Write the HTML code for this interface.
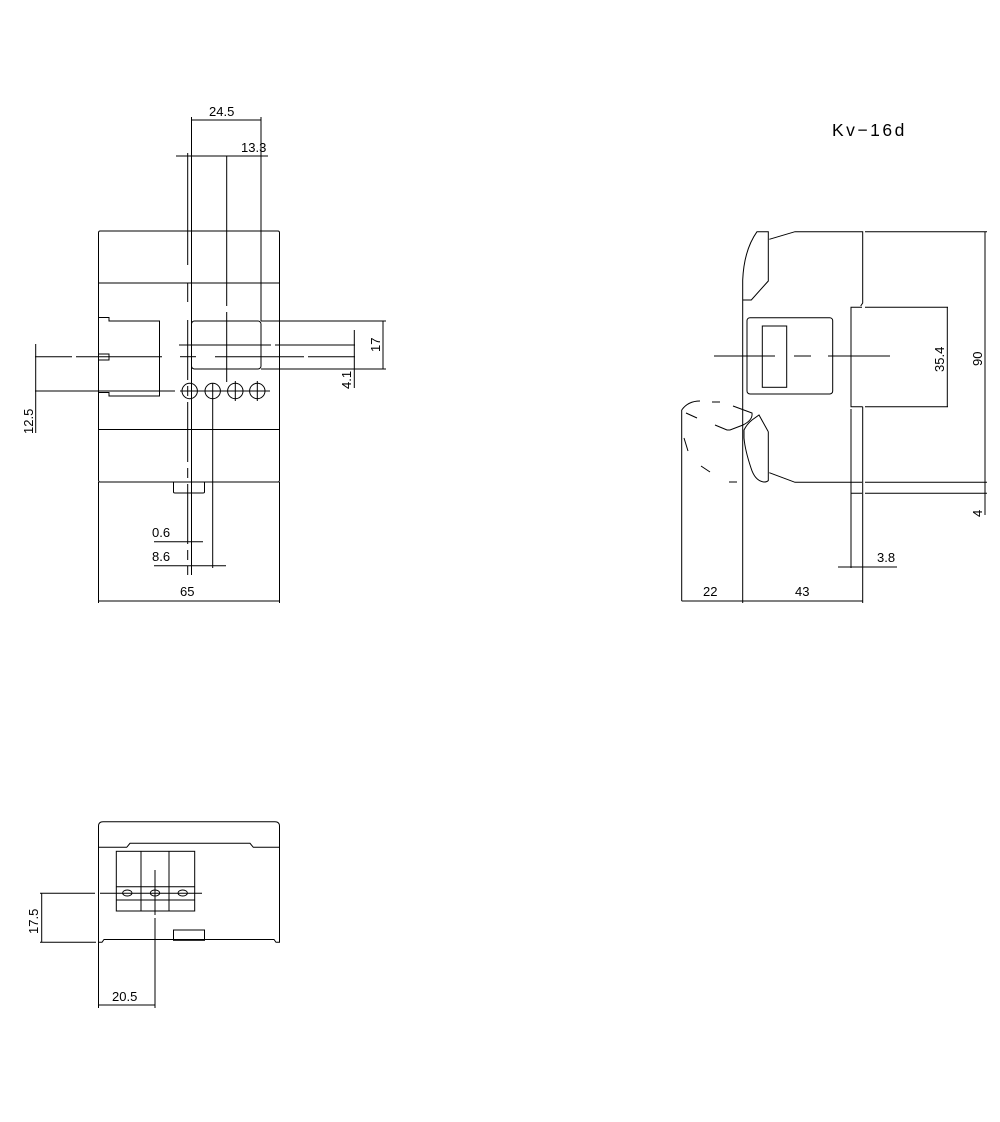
<!DOCTYPE html>
<html><head><meta charset="utf-8"><style>
html,body{margin:0;padding:0;background:#fff}
svg{display:block}
text{font-family:"Liberation Sans",sans-serif;font-size:13px;fill:#000;stroke:none}
</style></head><body>
<svg width="1000" height="1122" viewBox="0 0 1000 1122" xmlns="http://www.w3.org/2000/svg" fill="none" stroke="#000" stroke-width="1">
<!-- FRONT VIEW -->
<path d="M100,231 H278 Q279.5,231 279.5,233 V480 Q279.5,482 278,482 H100 Q98.5,482 98.5,480 V233 Q98.5,231 100,231Z"/>
<line x1="98.5" y1="283" x2="279.5" y2="283"/>
<line x1="98.5" y1="429.5" x2="279.5" y2="429.5"/>
<line x1="98.5" y1="482" x2="98.5" y2="603"/>
<line x1="279.5" y1="482" x2="279.5" y2="603"/>
<path d="M98.5,317.5 H109 V321 H159.5 V396 H109 V392.5 H98.5"/>
<rect x="98.5" y="354" width="10.5" height="6"/>
<rect x="191.5" y="321" width="69.5" height="48" rx="3"/>
<circle cx="189.7" cy="391" r="7.7"/><circle cx="212.7" cy="391" r="7.7"/>
<circle cx="235.3" cy="391" r="7.7"/><circle cx="257.3" cy="391" r="7.7"/>
<path d="M235.3,381 V401 M257.3,381 V401"/>
<path d="M173.5,482 V492 Q173.5,493 175,493 H203 Q204.5,493 204.5,492 V482"/>
<line x1="191.5" y1="117" x2="191.5" y2="575"/>
<line x1="261" y1="117" x2="261" y2="321"/>
<line x1="187.7" y1="153" x2="187.7" y2="265"/>
<line x1="187.7" y1="283" x2="187.7" y2="302"/>
<line x1="187.7" y1="320" x2="187.7" y2="575" stroke-dasharray="60,6,10,6"/>
<line x1="226.7" y1="156" x2="226.7" y2="306"/>
<line x1="226.7" y1="312" x2="226.7" y2="382"/>
<line x1="212.7" y1="383" x2="212.7" y2="568"/>
<line x1="179" y1="345" x2="271" y2="345"/><line x1="275" y1="345" x2="355" y2="345"/>
<line x1="35" y1="356.7" x2="72" y2="356.7"/><line x1="76" y1="356.7" x2="162" y2="356.7"/>
<line x1="180" y1="356.7" x2="196" y2="356.7"/><line x1="215" y1="356.7" x2="304" y2="356.7"/><line x1="308" y1="356.7" x2="355" y2="356.7"/>
<line x1="261" y1="321" x2="386" y2="321"/><line x1="261" y1="369" x2="386" y2="369"/>
<line x1="35" y1="391" x2="175" y2="391"/><line x1="180" y1="391" x2="270" y2="391"/>
<line x1="191.5" y1="120" x2="261" y2="120"/>
<text x="209" y="116">24.5</text>
<line x1="176" y1="156" x2="268" y2="156"/>
<text x="241" y="152">13.3</text>
<line x1="383" y1="321" x2="383" y2="369"/>
<text transform="translate(380,352) rotate(-90)">17</text>
<line x1="354.3" y1="330" x2="354.3" y2="388"/>
<text transform="translate(351,389) rotate(-90)">4.1</text>
<line x1="35.7" y1="344" x2="35.7" y2="433"/>
<text transform="translate(33,434) rotate(-90)">12.5</text>
<line x1="98.5" y1="601" x2="279.5" y2="601"/>
<text x="180" y="596">65</text>
<line x1="154" y1="541.7" x2="203" y2="541.7"/>
<text x="152" y="537">0.6</text>
<line x1="154" y1="565.7" x2="226" y2="565.7"/>
<text x="152" y="561">8.6</text>
<text x="832" y="136" style="font-size:17.5px;letter-spacing:2.5px">Kv−16d</text>
<!-- SIDE VIEW -->
<path d="M742.7,299.5 V280 Q744,250 757,231.7 H768.3 V281 L751.3,300 H742.7"/>
<path d="M769.3,239.3 L795,231.7 H862.7 V303 L860.7,306"/>
<line x1="865" y1="231.7" x2="987" y2="231.7"/>
<line x1="742.7" y1="299.5" x2="742.7" y2="603"/>
<path d="M862,307.3 H851 V406.7 H862.7 M865,307.3 H948 M865,406.7 H948"/>
<line x1="862.7" y1="406.7" x2="862.7" y2="603"/>
<line x1="851" y1="409" x2="851" y2="568"/>
<rect x="747" y="317.7" width="85.7" height="76.3" rx="3"/>
<rect x="762.3" y="326" width="24.4" height="61.3"/>
<path d="M714,356 H775 M794,356 H811 M828,356 H890"/>
<path d="M769.3,472.7 L795,482.3 H862 M865,482.3 H987"/>
<path d="M851,493.3 H862 M865,493.3 H987"/>
<path d="M768.3,431.7 V480.5 Q767,482 764,482 Q755,481 751,468 Q745,450 744,438 V430 Q747,424 752,420 L759,415 L768.3,431.7"/>
<path d="M681.7,410 V601"/>
<path d="M681.7,410 Q688,401 700,401 M712,402 H720 M733,406 L752,413 Q753,420 743,425 L730,430 H727 L715,425 M686,413 L697,418 M684,438 L688,451 M701,466 L710,472 M729,482 H737" />
<line x1="947.3" y1="307.3" x2="947.3" y2="406.7"/>
<text transform="translate(944,372) rotate(-90)">35.4</text>
<line x1="985" y1="231.7" x2="985" y2="515"/>
<text transform="translate(982,366) rotate(-90)">90</text>
<text transform="translate(982,517) rotate(-90)">4</text>
<line x1="838" y1="567" x2="897" y2="567"/>
<text x="877" y="562">3.8</text>
<line x1="681.7" y1="601" x2="862.7" y2="601"/>
<text x="703" y="596">22</text>
<text x="795" y="596">43</text>
<!-- BOTTOM VIEW -->
<path d="M98.5,942.3 V826 Q98.5,821.7 103,821.7 H275 Q279.5,821.7 279.5,826 V942.3 H276 L274,939.5 H104 L102,942.3 Z"/>
<path d="M98.5,847.3 H126.7 L130,843.3 H250 L253.3,847.3 H279.5"/>
<rect x="116.3" y="851.3" width="78.4" height="59.7"/>
<line x1="141" y1="851.3" x2="141" y2="911"/>
<line x1="169" y1="851.3" x2="169" y2="911"/>
<line x1="116.3" y1="886.7" x2="194.7" y2="886.7"/>
<line x1="116.3" y1="900" x2="194.7" y2="900"/>
<ellipse cx="127.3" cy="893" rx="4.7" ry="3"/>
<ellipse cx="155" cy="893" rx="4.7" ry="3"/>
<ellipse cx="182.7" cy="893" rx="4.7" ry="3"/>
<path d="M40,893.3 H95 M100,893.3 H202"/>
<path d="M155,870 V915 M155,918 V1008"/>
<rect x="173.5" y="930" width="31" height="10.3"/>
<line x1="40" y1="942.3" x2="96" y2="942.3"/>
<line x1="41.7" y1="893.3" x2="41.7" y2="942.3"/>
<text transform="translate(38,934) rotate(-90)">17.5</text>
<line x1="98.5" y1="942.3" x2="98.5" y2="1008"/>
<line x1="98.5" y1="1005" x2="155" y2="1005"/>
<text x="112" y="1001">20.5</text>
</svg>
</body></html>
